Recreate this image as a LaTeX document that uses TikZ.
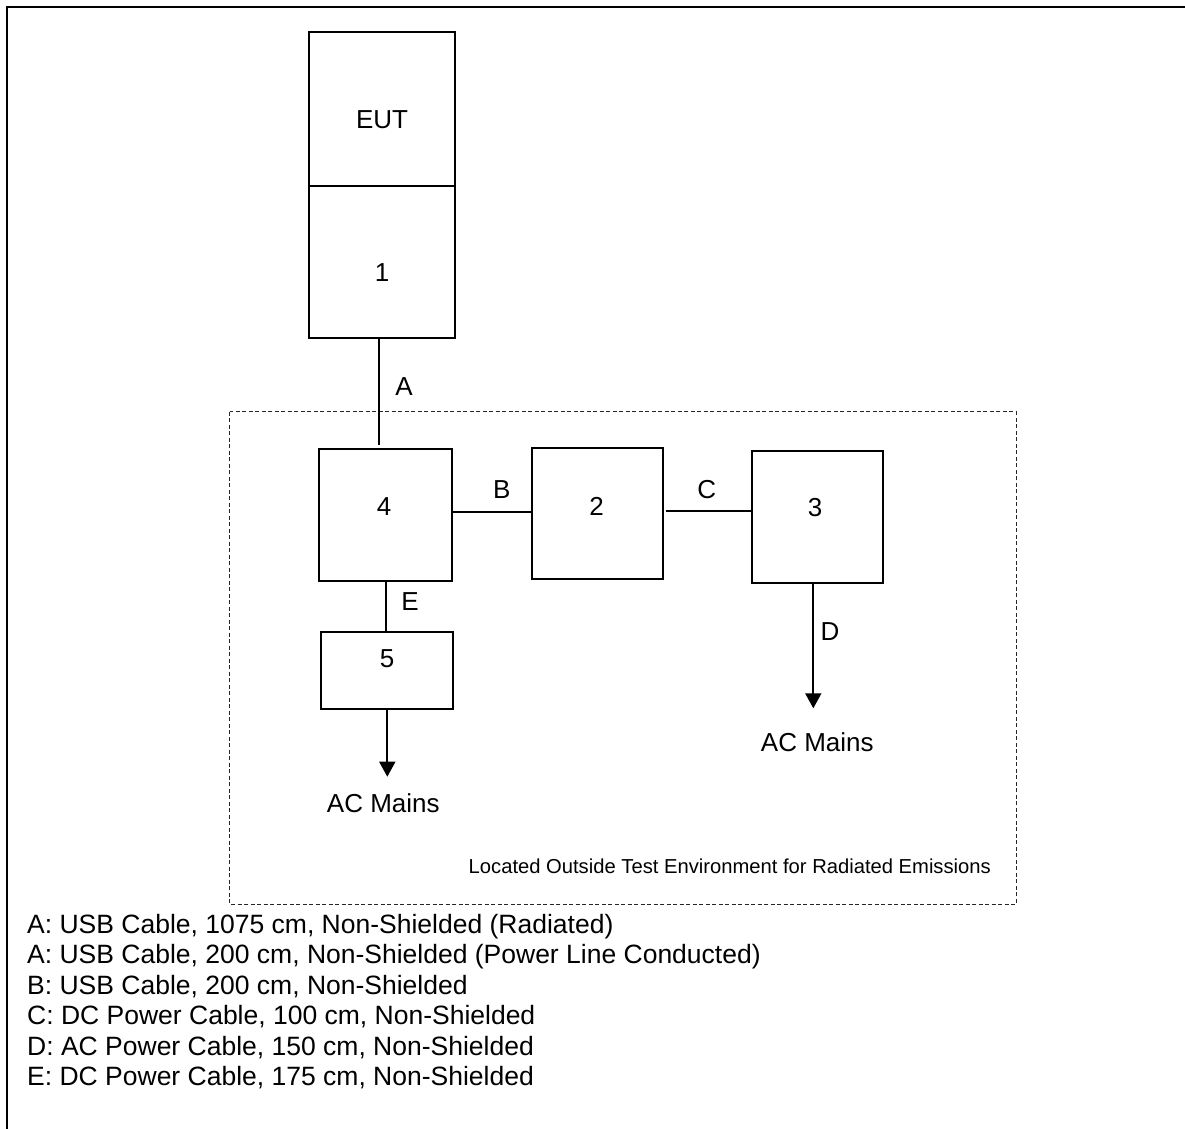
\documentclass[tikz,border=0pt]{standalone}
\usepackage{fontspec}
\setmainfont{Liberation Sans}
\usetikzlibrary{arrows.meta}
\begin{document}
\begin{tikzpicture}[x=1pt,y=-1pt,
  box/.style={draw=black, line width=2pt, inner sep=0pt, outer sep=0pt},
  wire/.style={draw=black, line width=1.7pt},
  lbl/.style={font=\fontsize{26}{30}\selectfont, inner sep=0pt},
  leg/.style={font=\fontsize{26.5}{30}\selectfont, inner sep=0pt, anchor=base west},
  feed/.style={wire, -{Triangle[width=16pt,length=15pt]}},
  zone/.style={draw=black!85, line width=1pt, dash pattern=on 4pt off 2.5pt}
]
\useasboundingbox (0,0) rectangle (1185,1128);
\begin{scope}
  \clip (0,0) rectangle (1185,1128);
  \draw[line width=2pt] (6.7,7) rectangle (1200,1150);
\end{scope}

% dashed region
\draw[zone] (229.5,411.5) rectangle (1016,904);
\node[font=\fontsize{20.2}{24}\selectfont, inner sep=0pt, anchor=base east] (zonetext) at (991,873.8)
  {Located Outside Test Environment for Radiated Emissions};

% boxes
\node[box, minimum width=146pt, minimum height=154pt,
  label={[lbl, yshift=-11pt]center:EUT}] (eut) at (382,109) {};
\node[box, minimum width=146pt, minimum height=152pt,
  label={[lbl, yshift=-11pt]center:1}] (one) at (382,262) {};
\node[box, minimum width=132.7pt, minimum height=131.5pt,
  label={[lbl, xshift=-1.7pt, yshift=7.8pt]center:4}] (four) at (385.7,514.8) {};
\node[box, minimum width=131.6pt, minimum height=131pt,
  label={[lbl, xshift=-0.8pt, yshift=7pt]center:2}] (two) at (597.5,513.8) {};
\node[box, minimum width=131pt, minimum height=132pt,
  label={[lbl, xshift=-2pt, yshift=8.7pt]center:3}] (three) at (817.2,516.7) {};
\node[box, minimum width=132.6pt, minimum height=77.6pt,
  label={[lbl, yshift=12.2pt]center:5}] (five) at (387,670.5) {};

% reference coordinates
\coordinate (ax) at (379.3,0);
\coordinate (by) at (0,512.3);
\coordinate (cy) at (0,511);
\coordinate (dx) at (813.3,0);
\coordinate (ex) at (386,0);
\coordinate (fx) at (387.3,0);
\coordinate (dtip) at (813.3,708.3);
\coordinate (ftip) at (387.3,776.7);

% connectors
\draw[wire] (one.south -| ax) -- ([yshift=4pt]four.north -| ax);
\draw[wire] (four.east |- by) -- (two.west |- by);
\draw[wire] ([xshift=2.5pt]two.east |- cy) -- (three.west |- cy);
\draw[feed] (three.south -| dx) -- (dtip);
\draw[wire] (four.south -| ex) -- (five.north -| ex);
\draw[feed] (five.south -| fx) -- (ftip);

% connector labels
\node[lbl] (la) at (404,387) {A};
\node[lbl] (lb) at (501.7,489.3) {B};
\node[lbl] (lc) at (706.7,489.3) {C};
\node[lbl] (ld) at (830,631.7) {D};
\node[lbl] (le) at (410,601.7) {E};
\node[lbl] (mains1) at (383.3,803.3) {AC Mains};
\node[lbl] (mains2) at (817.3,741.7) {AC Mains};

% legend
\node[leg] (l1) at (27,933.3) {A: USB Cable, 1075 cm, Non-Shielded (Radiated)};
\node[leg] (l2) at (27,963.8) {A: USB Cable, 200 cm, Non-Shielded (Power Line Conducted)};
\node[leg] (l3) at (27,994.3) {B: USB Cable, 200 cm, Non-Shielded};
\node[leg] (l4) at (27,1024.8) {C: DC Power Cable, 100 cm, Non-Shielded};
\node[leg] (l5) at (27,1055.3) {D: AC Power Cable, 150 cm, Non-Shielded};
\node[leg] (l6) at (27,1085.8) {E: DC Power Cable, 175 cm, Non-Shielded};
\end{tikzpicture}
\end{document}
